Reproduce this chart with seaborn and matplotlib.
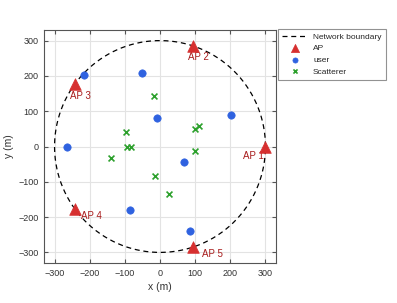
import numpy as np
import pandas as pd
import seaborn as sns
import matplotlib
matplotlib.use("Agg")
import matplotlib.pyplot as plt

sns.set_style("whitegrid", {"grid.color": "#e3e3e3", "axes.edgecolor": "#555555",
                            "xtick.direction": "in", "ytick.direction": "in"})
plt.rcParams['font.family'] = ['Liberation Sans', 'DejaVu Sans']

#%%
# 配置データ
radius = 300
ap_names = ['AP 1', 'AP 2', 'AP 3', 'AP 4', 'AP 5']
ap_x = [300, 93, -243, -243, 93]
ap_y = [0, 285, 176, -176, -285]
# ラベル位置
label_x = [265, 109, -225, -194, 150]
label_y = [-28, 253, 142, -196, -304]

user_x = [-216, -50, -264, -8, 201, 67, -84, 85]
user_y = [202, 207, 0, 82, 89, -43, -179, -240]

scat_x = [-17, -98, -93, -82, -138, 99, 112, 99, -14, 25]
scat_y = [143, 41, 0, 0, -33, 50, 59, -14, -83, -134]

ticks = [-300, -200, -100, 0, 100, 200, 300]

#%%
theta = np.linspace(0, 2 * np.pi, 400)
df_bound = pd.DataFrame({'x': radius * np.cos(theta), 'y': radius * np.sin(theta)})
df_ap = pd.DataFrame({'x': ap_x, 'y': ap_y})
df_user = pd.DataFrame({'x': user_x, 'y': user_y})
df_scat = pd.DataFrame({'x': scat_x, 'y': scat_y})

fig = plt.figure(figsize=(3.97, 3.03), dpi=100)
ax = fig.add_axes([44 / 397, 40 / 303, 232 / 397, 233 / 303])

sns.lineplot(data=df_bound, x='x', y='y', sort=False, estimator=None, ax=ax,
             color='black', linestyle=(0, (4, 3)), linewidth=0.9, label='Network boundary')
sns.scatterplot(data=df_ap, x='x', y='y', ax=ax, marker='^', s=70, color='#d62f2f',
                edgecolor='#d62f2f', linewidth=0.5, label='AP', zorder=4)
sns.scatterplot(data=df_user, x='x', y='y', ax=ax, marker='o', s=28, color='#2f62e0',
                edgecolor='#2f62e0', linewidth=0.5, label='user', zorder=4)
sns.scatterplot(data=df_scat, x='x', y='y', ax=ax, marker='x', s=18, color='#2ca02c',
                linewidth=1.2, label='Scatterer', zorder=4)

for name, lx, ly in zip(ap_names, label_x, label_y):
    ax.text(lx, ly, name, color='#a81c1c', fontsize=7, ha='center', va='center')

ax.set_xlim(-330, 330)
ax.set_ylim(-330, 330)
ax.set_xticks(ticks)
ax.set_yticks(ticks)
ax.tick_params(labelsize=6.5, colors='#555555', labelcolor='#333333', length=3,
               top=True, right=True, bottom=True, left=True, pad=4)
ax.set_xlabel('x (m)', fontsize=7.5, color='#333333', labelpad=3)
ax.set_ylabel('y (m)', fontsize=7.5, color='#333333', labelpad=3)
for s in ax.spines.values():
    s.set_linewidth(0.8)

leg = ax.legend(loc='upper left', bbox_to_anchor=(1.009, 1.005), fontsize=6, frameon=True,
                fancybox=False, edgecolor='#777777', borderaxespad=0, handlelength=3.1,
                labelspacing=0.45, borderpad=0.5, handletextpad=0.6, markerscale=0.7)
leg.get_frame().set_linewidth(0.8)

plt.savefig('out.png', dpi=100)
